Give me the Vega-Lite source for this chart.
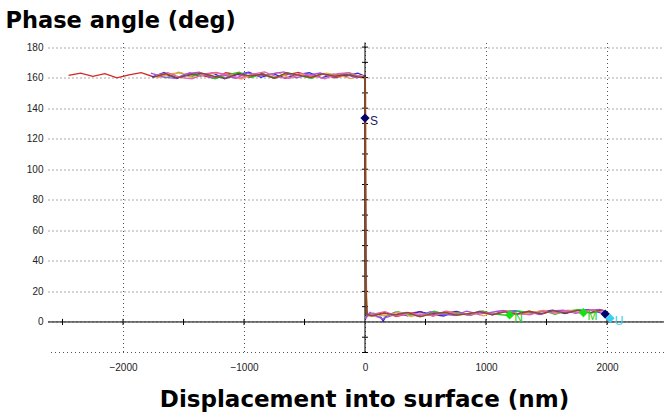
{
  "$schema": "https://vega.github.io/schema/vega-lite/v6.json",
  "width": 616,
  "height": 310,
  "autosize": {"type": "none"},
  "padding": {"left": 48, "top": 42.5, "right": 0, "bottom": 61.5},
  "background": "white",
  "config": {"view": {"stroke": null}},
  "datasets": {
    "curves": [
      {"curve":"A","x":-2450,"y":161.5},{"curve":"A","x":-2350,"y":163.0},{"curve":"A","x":-2250,"y":160.8},{"curve":"A","x":-2150,"y":162.6},{"curve":"A","x":-2050,"y":159.9},{"curve":"A","x":-1950,"y":161.8},{"curve":"A","x":-1850,"y":163.3},{"curve":"A","x":-1750,"y":160.6},{"curve":"A","x":-1650,"y":162.2},{"curve":"A","x":-1550,"y":159.7},{"curve":"A","x":-1450,"y":163.0},{"curve":"A","x":-1350,"y":161.4},{"curve":"A","x":-1250,"y":159.6},{"curve":"A","x":-1150,"y":163.2},{"curve":"A","x":-1050,"y":161.9},{"curve":"A","x":-950,"y":160.2},{"curve":"A","x":-850,"y":162.7},{"curve":"A","x":-750,"y":159.5},{"curve":"A","x":-650,"y":161.8},{"curve":"A","x":-550,"y":163.4},{"curve":"A","x":-450,"y":160.4},{"curve":"A","x":-350,"y":162.4},{"curve":"A","x":-250,"y":159.9},{"curve":"A","x":-150,"y":161.7},{"curve":"A","x":-50,"y":161.1},{"curve":"A","x":0,"y":160.8},{"curve":"A","x":5,"y":40},{"curve":"A","x":10,"y":6},{"curve":"A","x":60,"y":4.2},{"curve":"A","x":160,"y":6.2},{"curve":"A","x":260,"y":3.6},{"curve":"A","x":360,"y":5.6},{"curve":"A","x":460,"y":6.7},{"curve":"A","x":560,"y":3.9},{"curve":"A","x":660,"y":5.9},{"curve":"A","x":760,"y":6.9},{"curve":"A","x":860,"y":4.3},{"curve":"A","x":960,"y":6.5},{"curve":"A","x":1060,"y":5.0},{"curve":"A","x":1160,"y":7.2},{"curve":"A","x":1260,"y":4.9},{"curve":"A","x":1360,"y":7.0},{"curve":"A","x":1460,"y":5.1},{"curve":"A","x":1560,"y":7.6},{"curve":"A","x":1660,"y":5.8},{"curve":"A","x":1760,"y":7.9},{"curve":"A","x":1860,"y":5.9},{"curve":"A","x":1960,"y":7.9},{"curve":"A","x":2000,"y":6.0},

      {"curve":"B","x":-1760,"y":160.3},{"curve":"B","x":-1660,"y":163.4},{"curve":"B","x":-1560,"y":159.4},{"curve":"B","x":-1460,"y":162.5},{"curve":"B","x":-1360,"y":161.0},{"curve":"B","x":-1260,"y":163.1},{"curve":"B","x":-1160,"y":159.3},{"curve":"B","x":-1060,"y":162.0},{"curve":"B","x":-960,"y":163.5},{"curve":"B","x":-860,"y":160.2},{"curve":"B","x":-760,"y":162.6},{"curve":"B","x":-660,"y":159.6},{"curve":"B","x":-560,"y":161.9},{"curve":"B","x":-460,"y":163.2},{"curve":"B","x":-360,"y":159.8},{"curve":"B","x":-260,"y":162.3},{"curve":"B","x":-160,"y":160.9},{"curve":"B","x":-60,"y":162.9},{"curve":"B","x":0,"y":161.0},{"curve":"B","x":4,"y":30},{"curve":"B","x":12,"y":5},{"curve":"B","x":50,"y":4.0},{"curve":"B","x":130,"y":3.2},{"curve":"B","x":150,"y":0.5},{"curve":"B","x":170,"y":3.5},{"curve":"B","x":250,"y":6.4},{"curve":"B","x":350,"y":4.1},{"curve":"B","x":450,"y":6.8},{"curve":"B","x":550,"y":5.0},{"curve":"B","x":650,"y":3.9},{"curve":"B","x":750,"y":6.9},{"curve":"B","x":850,"y":4.7},{"curve":"B","x":950,"y":7.1},{"curve":"B","x":1050,"y":4.6},{"curve":"B","x":1150,"y":6.9},{"curve":"B","x":1250,"y":7.3},{"curve":"B","x":1350,"y":5.0},{"curve":"B","x":1450,"y":6.6},{"curve":"B","x":1550,"y":7.7},{"curve":"B","x":1650,"y":5.5},{"curve":"B","x":1750,"y":7.4},{"curve":"B","x":1850,"y":8.0},{"curve":"B","x":1950,"y":6.0},{"curve":"B","x":2010,"y":5.0},

      {"curve":"C","x":-1740,"y":162.2},{"curve":"C","x":-1640,"y":159.8},{"curve":"C","x":-1540,"y":163.5},{"curve":"C","x":-1440,"y":160.6},{"curve":"C","x":-1340,"y":162.8},{"curve":"C","x":-1240,"y":159.3},{"curve":"C","x":-1140,"y":161.8},{"curve":"C","x":-1040,"y":163.6},{"curve":"C","x":-940,"y":160.1},{"curve":"C","x":-840,"y":162.4},{"curve":"C","x":-740,"y":159.9},{"curve":"C","x":-640,"y":163.0},{"curve":"C","x":-540,"y":161.2},{"curve":"C","x":-440,"y":159.5},{"curve":"C","x":-340,"y":162.7},{"curve":"C","x":-240,"y":160.8},{"curve":"C","x":-140,"y":163.3},{"curve":"C","x":-40,"y":160.2},{"curve":"C","x":0,"y":160.0},{"curve":"C","x":2,"y":120},{"curve":"C","x":4,"y":5},{"curve":"C","x":70,"y":5.8},{"curve":"C","x":170,"y":3.8},{"curve":"C","x":270,"y":6.7},{"curve":"C","x":370,"y":4.6},{"curve":"C","x":470,"y":3.7},{"curve":"C","x":570,"y":7.0},{"curve":"C","x":670,"y":5.0},{"curve":"C","x":770,"y":6.3},{"curve":"C","x":870,"y":4.2},{"curve":"C","x":970,"y":7.3},{"curve":"C","x":1070,"y":5.1},{"curve":"C","x":1170,"y":4.4},{"curve":"C","x":1270,"y":7.2},{"curve":"C","x":1370,"y":5.8},{"curve":"C","x":1470,"y":7.5},{"curve":"C","x":1570,"y":5.0},{"curve":"C","x":1670,"y":7.2},{"curve":"C","x":1770,"y":8.0},{"curve":"C","x":1870,"y":5.8},{"curve":"C","x":1970,"y":7.6},{"curve":"C","x":2000,"y":6.5},

      {"curve":"D","x":-1720,"y":159.7},{"curve":"D","x":-1620,"y":162.4},{"curve":"D","x":-1520,"y":163.2},{"curve":"D","x":-1420,"y":159.9},{"curve":"D","x":-1320,"y":161.9},{"curve":"D","x":-1220,"y":163.0},{"curve":"D","x":-1120,"y":160.8},{"curve":"D","x":-1020,"y":159.1},{"curve":"D","x":-920,"y":162.7},{"curve":"D","x":-820,"y":161.3},{"curve":"D","x":-720,"y":163.4},{"curve":"D","x":-620,"y":159.6},{"curve":"D","x":-520,"y":162.2},{"curve":"D","x":-420,"y":160.3},{"curve":"D","x":-320,"y":162.9},{"curve":"D","x":-220,"y":161.6},{"curve":"D","x":-120,"y":159.4},{"curve":"D","x":-20,"y":161.5},{"curve":"D","x":0,"y":158},{"curve":"D","x":5,"y":150},{"curve":"D","x":8,"y":40},{"curve":"D","x":18,"y":4},{"curve":"D","x":80,"y":3.6},{"curve":"D","x":180,"y":4.5},{"curve":"D","x":280,"y":6.4},{"curve":"D","x":380,"y":3.6},{"curve":"D","x":480,"y":5.6},{"curve":"D","x":580,"y":4.2},{"curve":"D","x":680,"y":7.0},{"curve":"D","x":780,"y":4.6},{"curve":"D","x":880,"y":6.0},{"curve":"D","x":980,"y":4.0},{"curve":"D","x":1080,"y":6.9},{"curve":"D","x":1180,"y":7.3},{"curve":"D","x":1280,"y":4.8},{"curve":"D","x":1380,"y":6.2},{"curve":"D","x":1480,"y":7.6},{"curve":"D","x":1580,"y":5.8},{"curve":"D","x":1680,"y":7.7},{"curve":"D","x":1780,"y":5.9},{"curve":"D","x":1880,"y":8.0},{"curve":"D","x":1980,"y":5.9},

      {"curve":"E","x":-1770,"y":162.9},{"curve":"E","x":-1670,"y":160.5},{"curve":"E","x":-1570,"y":159.5},{"curve":"E","x":-1470,"y":162.6},{"curve":"E","x":-1370,"y":163.6},{"curve":"E","x":-1270,"y":160.1},{"curve":"E","x":-1170,"y":161.8},{"curve":"E","x":-1070,"y":159.6},{"curve":"E","x":-970,"y":163.1},{"curve":"E","x":-870,"y":161.0},{"curve":"E","x":-770,"y":162.4},{"curve":"E","x":-670,"y":163.7},{"curve":"E","x":-570,"y":159.8},{"curve":"E","x":-470,"y":161.6},{"curve":"E","x":-370,"y":163.0},{"curve":"E","x":-270,"y":160.4},{"curve":"E","x":-170,"y":162.3},{"curve":"E","x":-70,"y":159.8},{"curve":"E","x":0,"y":161.0},{"curve":"E","x":6,"y":35},{"curve":"E","x":14,"y":3},{"curve":"E","x":40,"y":6.3},{"curve":"E","x":140,"y":2.0},{"curve":"E","x":240,"y":4.6},{"curve":"E","x":340,"y":6.2},{"curve":"E","x":440,"y":3.9},{"curve":"E","x":540,"y":6.7},{"curve":"E","x":640,"y":5.0},{"curve":"E","x":740,"y":4.3},{"curve":"E","x":840,"y":7.1},{"curve":"E","x":940,"y":5.1},{"curve":"E","x":1040,"y":6.3},{"curve":"E","x":1140,"y":7.5},{"curve":"E","x":1240,"y":5.0},{"curve":"E","x":1340,"y":6.9},{"curve":"E","x":1440,"y":4.9},{"curve":"E","x":1540,"y":7.2},{"curve":"E","x":1640,"y":7.8},{"curve":"E","x":1740,"y":5.6},{"curve":"E","x":1840,"y":7.6},{"curve":"E","x":1940,"y":8.2},{"curve":"E","x":2020,"y":5.5},

      {"curve":"F","x":-1730,"y":161.4},{"curve":"F","x":-1630,"y":163.2},{"curve":"F","x":-1530,"y":160.1},{"curve":"F","x":-1430,"y":159.2},{"curve":"F","x":-1330,"y":162.5},{"curve":"F","x":-1230,"y":163.4},{"curve":"F","x":-1130,"y":161.7},{"curve":"F","x":-1030,"y":159.7},{"curve":"F","x":-930,"y":162.3},{"curve":"F","x":-830,"y":163.7},{"curve":"F","x":-730,"y":160.5},{"curve":"F","x":-630,"y":159.6},{"curve":"F","x":-530,"y":162.9},{"curve":"F","x":-430,"y":161.3},{"curve":"F","x":-330,"y":159.3},{"curve":"F","x":-230,"y":162.6},{"curve":"F","x":-130,"y":163.2},{"curve":"F","x":-30,"y":160.4},{"curve":"F","x":0,"y":160.5},{"curve":"F","x":5,"y":20},{"curve":"F","x":12,"y":5},{"curve":"F","x":65,"y":5.2},{"curve":"F","x":165,"y":6.7},{"curve":"F","x":265,"y":3.9},{"curve":"F","x":365,"y":6.0},{"curve":"F","x":465,"y":4.9},{"curve":"F","x":565,"y":4.2},{"curve":"F","x":665,"y":7.0},{"curve":"F","x":765,"y":5.4},{"curve":"F","x":865,"y":4.4},{"curve":"F","x":965,"y":6.8},{"curve":"F","x":1065,"y":5.0},{"curve":"F","x":1165,"y":7.0},{"curve":"F","x":1265,"y":5.5},{"curve":"F","x":1365,"y":4.6},{"curve":"F","x":1465,"y":7.3},{"curve":"F","x":1565,"y":5.8},{"curve":"F","x":1665,"y":7.5},{"curve":"F","x":1765,"y":6.0},{"curve":"F","x":1865,"y":8.0},{"curve":"F","x":1965,"y":6.2},

      {"curve":"G","x":-1750,"y":160.2},{"curve":"G","x":-1650,"y":162.6},{"curve":"G","x":-1550,"y":159.9},{"curve":"G","x":-1450,"y":161.6},{"curve":"G","x":-1350,"y":163.0},{"curve":"G","x":-1250,"y":160.9},{"curve":"G","x":-1150,"y":159.5},{"curve":"G","x":-1050,"y":162.8},{"curve":"G","x":-950,"y":161.2},{"curve":"G","x":-850,"y":162.2},{"curve":"G","x":-750,"y":159.6},{"curve":"G","x":-650,"y":163.2},{"curve":"G","x":-550,"y":161.6},{"curve":"G","x":-450,"y":160.1},{"curve":"G","x":-350,"y":162.5},{"curve":"G","x":-250,"y":161.0},{"curve":"G","x":-150,"y":161.9},{"curve":"G","x":-50,"y":160.3},{"curve":"G","x":0,"y":160.5},{"curve":"G","x":3,"y":90},{"curve":"G","x":6,"y":20},{"curve":"G","x":15,"y":5},{"curve":"G","x":55,"y":4.0},{"curve":"G","x":155,"y":5.6},{"curve":"G","x":255,"y":4.6},{"curve":"G","x":355,"y":6.3},{"curve":"G","x":455,"y":3.4},{"curve":"G","x":555,"y":5.4},{"curve":"G","x":655,"y":6.2},{"curve":"G","x":755,"y":4.4},{"curve":"G","x":855,"y":5.5},{"curve":"G","x":955,"y":6.7},{"curve":"G","x":1055,"y":4.6},{"curve":"G","x":1155,"y":6.6},{"curve":"G","x":1255,"y":5.1},{"curve":"G","x":1355,"y":7.0},{"curve":"G","x":1455,"y":5.3},{"curve":"G","x":1555,"y":7.4},{"curve":"G","x":1655,"y":5.8},{"curve":"G","x":1755,"y":7.6},{"curve":"G","x":1855,"y":6.0},{"curve":"G","x":1955,"y":7.9}
    ],
    "markers": [
      {"point":"S","x":0,"y":133.5,"label":"S"},
      {"point":"N","x":1195,"y":4.6,"label":"N"},
      {"point":"M","x":1805,"y":6.1,"label":"M"},
      {"point":"E","x":1985,"y":5.2,"label":""},
      {"point":"U","x":2025,"y":2.4,"label":"U"}
    ],
    "xticks": [{"v":-2500},{"v":-2000},{"v":-1500},{"v":-1000},{"v":-500},{"v":500},{"v":1000},{"v":1500},{"v":2000}],
    "yticks": [{"v":-20},{"v":-10},{"v":10},{"v":20},{"v":30},{"v":40},{"v":50},{"v":60},{"v":70},{"v":80},{"v":90},{"v":100},{"v":110},{"v":120},{"v":130},{"v":140},{"v":150},{"v":160},{"v":170},{"v":180}]
  },
  "layer": [
    {
      "data": {"name": "curves"},
      "mark": {"type": "line", "strokeWidth": 1.3, "interpolate": "linear"},
      "encoding": {
        "x": {"field": "x", "type": "quantitative", "scale": {"domain": [-2620, 2471], "nice": false, "zero": false},
          "axis": {"values": [-2000, -1000, 0, 1000, 2000], "tickCount": 20, "format": "d", "labelOverlap": false, "grid": true, "gridDash": [1, 3], "gridColor": "#555", "gridWidth": 1,
            "domain": false, "ticks": false, "labelFont": "Liberation Sans", "labelFontSize": 10, "labelColor": "#222", "labelPadding": 10,
            "title": "Displacement into surface (nm)", "titleFont": "DejaVu Sans", "titleFontWeight": "bold", "titleFontSize": 23,
            "titleColor": "#000", "titleX": 316, "titleY": 54, "titleBaseline": "alphabetic", "titleAlign": "center"}},
        "y": {"field": "y", "type": "quantitative", "scale": {"domain": [-20, 183], "nice": false, "zero": false},
          "axis": {"values": [0, 20, 40, 60, 80, 100, 120, 140, 160, 180], "tickCount": 20, "format": "d", "labelOverlap": false, "labelBound": false, "labelFlush": false,
            "grid": true, "gridDash": [1, 3], "gridColor": "#555", "gridWidth": 1,
            "domain": false, "ticks": false, "labelFont": "Liberation Sans", "labelFontSize": 10, "labelColor": "#222", "labelPadding": 5,
            "title": "Phase angle (deg)", "titleFont": "DejaVu Sans", "titleFontWeight": "bold", "titleFontSize": 22.5, "titleColor": "#000",
            "titleAngle": 0, "titleAlign": "left", "titleBaseline": "alphabetic", "titleX": -43, "titleY": -15}},
        "color": {"field": "curve", "type": "nominal", "legend": null,
          "scale": {"domain": ["A", "B", "C", "D", "E", "F", "G"],
            "range": ["#d02828", "#2a2ae0", "#22c822", "#f7a050", "#a650e8", "#e860b0", "#8a4a2a"]}},
        "order": {"field": "curve"}
      }
    },
    {
      "data": {"values": [{"k": 1}]},
      "mark": {"type": "rule", "color": "#555", "strokeWidth": 1, "strokeDash": [1, 3]},
      "encoding": {"y": {"datum": -20, "type": "quantitative"}}
    },
    {
      "data": {"values": [{"k": 1}]},
      "mark": {"type": "rule", "color": "#000", "strokeWidth": 1},
      "encoding": {"x": {"datum": 0, "type": "quantitative"}}
    },
    {
      "data": {"values": [{"k": 1}]},
      "mark": {"type": "rule", "color": "#000", "strokeWidth": 1},
      "encoding": {"y": {"datum": 0, "type": "quantitative"}}
    },
    {
      "data": {"name": "xticks"},
      "mark": {"type": "rule", "color": "#000", "strokeWidth": 1},
      "encoding": {
        "x": {"field": "v", "type": "quantitative"},
        "y": {"datum": -2, "type": "quantitative"},
        "y2": {"datum": 2}
      }
    },
    {
      "data": {"name": "yticks"},
      "mark": {"type": "rule", "color": "#000", "strokeWidth": 1},
      "encoding": {
        "y": {"field": "v", "type": "quantitative"},
        "x": {"datum": -25, "type": "quantitative"},
        "x2": {"datum": 25}
      }
    },
    {
      "data": {"name": "curves"},
      "transform": [{"filter": "datum.curve == 'G' && datum.x >= 0 && datum.x <= 15"}],
      "mark": {"type": "line", "strokeWidth": 2, "color": "#8a4a2a"},
      "encoding": {
        "x": {"field": "x", "type": "quantitative"},
        "y": {"field": "y", "type": "quantitative"}
      }
    },
    {
      "data": {"name": "markers"},
      "mark": {"type": "point", "shape": "diamond", "filled": true, "size": 85, "opacity": 1},
      "encoding": {
        "x": {"field": "x", "type": "quantitative"},
        "y": {"field": "y", "type": "quantitative"},
        "color": {"field": "point", "type": "nominal", "legend": null,
          "scale": {"domain": ["S", "N", "M", "E", "U"], "range": ["#00006e", "#18e018", "#18e018", "#00006e", "#38d0f0"]}}
      }
    },
    {
      "data": {"name": "markers"},
      "mark": {"type": "text", "font": "Liberation Sans", "fontSize": 12, "align": "center", "baseline": "middle", "dx": 9, "dy": 3},
      "encoding": {
        "x": {"field": "x", "type": "quantitative"},
        "y": {"field": "y", "type": "quantitative"},
        "text": {"field": "label"},
        "color": {"field": "point", "type": "nominal", "legend": null,
          "scale": {"domain": ["S", "N", "M", "E", "U"], "range": ["#202060", "#18d018", "#18d018", "#00006e", "#38d0f0"]}}
      }
    }
  ],
  "resolve": {"scale": {"color": "independent"}}
}
